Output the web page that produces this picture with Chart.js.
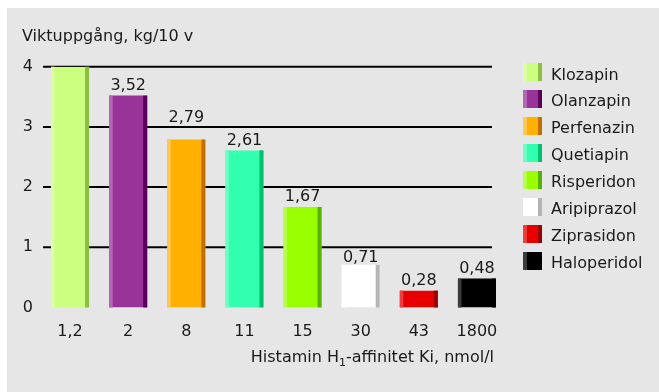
<!DOCTYPE html>
<html>
<head>
<meta charset="utf-8">
<script src="https://cdn.jsdelivr.net/npm/chart.js@4/dist/chart.umd.min.js"></script>
<style>
  html, body { margin:0; padding:0; background:#ffffff; }
  body { width:659px; height:392px; position:relative; overflow:hidden; font-family:"DejaVu Sans", sans-serif; color:#1a1a1a; }
  #bg { position:absolute; left:7px; top:8px; right:0; bottom:0; background:#e6e6e6; }
  #c { position:absolute; left:0; top:0; }
  .txt { position:absolute; font-size:16px; line-height:normal; white-space:nowrap; color:#1a1a1a; }
  .sw { position:absolute; width:19px; height:18px; }
</style>
</head>
<body>
<div id="bg"></div>
<canvas id="c" width="659" height="392"></canvas>
<div class="txt" id="ytitle" style="left:22px; top:26px;"></div>
<div class="txt" id="xtitle" style="right:165px; top:347px; text-align:right;"></div>
<div id="legend"></div>
<script>
// ---- data ----
const categories = ["1,2", "2", "8", "11", "15", "30", "43", "1800"];
const drugs = ["Klozapin", "Olanzapin", "Perfenazin", "Quetiapin", "Risperidon", "Aripiprazol", "Ziprasidon", "Haloperidol"];
const weightGain = [4.00, 3.52, 2.79, 2.61, 1.67, 0.71, 0.28, 0.48];
const yTicks = [0, 1, 2, 3, 4];
const yTitle = "Viktuppgång, kg/10 v";
const xTitleHtml = 'Histamin H<span style="font-size:11px; position:relative; top:4px;">1</span>-affinitet Ki, nmol/l';

// ---- styles ----
const mainColors  = ["#ccff80", "#993399", "#ffb000", "#33ffb0", "#99ff00", "#ffffff", "#e60000", "#000000"];
const lightColors = ["#dcffa0", "#b366b3", "#ffc850", "#6affc6", "#b5ff4a", "#ffffff", "#ef3d3d", "#3c3c3c"];
const darkColors  = ["#8cbf40", "#5a005a", "#c07000", "#00c070", "#55b300", "#b4b4b4", "#990000", "#000000"];

document.getElementById('ytitle').textContent = yTitle;
document.getElementById('xtitle').innerHTML = xTitleHtml;

// legend (HTML)
const leg = document.getElementById('legend');
drugs.forEach((name, i) => {
  const top = 63.3 + i * 26.9;
  const sw = document.createElement('div');
  sw.className = 'sw';
  sw.style.left = '523px';
  sw.style.top = top + 'px';
  sw.style.background = `linear-gradient(to right, ${lightColors[i]} 0px, ${lightColors[i]} 4px, ${mainColors[i]} 4px, ${mainColors[i]} 15px, ${darkColors[i]} 15px, ${darkColors[i]} 19px)`;
  leg.appendChild(sw);
  const t = document.createElement('div');
  t.className = 'txt';
  t.style.left = '551px';
  t.style.top = (top + 1.2) + 'px';
  t.textContent = name;
  leg.appendChild(t);
});

const FONT = { family: "DejaVu Sans", size: 16 };
const fmt = v => v.toFixed(2).replace('.', ',');

const gridPlugin = {
  id: 'gridLines',
  beforeDatasetsDraw(chart) {
    const ctx = chart.ctx, y = chart.scales.y;
    ctx.save();
    ctx.strokeStyle = '#000000';
    ctx.lineWidth = 2;
    yTicks.forEach(v => {
      if (v === 0) return;
      const py = y.getPixelForValue(v);
      ctx.beginPath();
      ctx.moveTo(43, py);
      ctx.lineTo(492, py);
      ctx.stroke();
    });
    ctx.restore();
  }
};

const barDecor = {
  id: 'barDecor',
  afterDatasetsDraw(chart) {
    const ctx = chart.ctx;
    const ys = chart.scales.y;
    const meta = chart.getDatasetMeta(0);
    const yMax = ys.max;
    const linePx = yTicks.filter(v => v > 0).map(v => ys.getPixelForValue(v));
    ctx.save();
    meta.data.forEach((bar, i) => {
      const p = bar.getProps(['x', 'y', 'base', 'width'], true);
      const left = p.x - p.width / 2, right = p.x + p.width / 2;
      const h = p.base - p.y;
      ctx.fillStyle = lightColors[i];
      ctx.fillRect(left, p.y, 3.5, h);
      ctx.fillStyle = darkColors[i];
      ctx.fillRect(right - 4, p.y, 4, h);
      const v = weightGain[i];
      if (v < yMax) {
        // label placement: just above the bar, avoiding the grid lines
        let base = p.y - 5.5;
        const capH = 11.7;
        for (const ly of linePx) {
          const top = base - capH;
          if (top < ly + 2.5 && base > ly - 2.5) {
            const down = ly + 2.7 + capH;
            if (down <= p.y - 2.5) base = down;
            else base = ly - 4.5;
          }
        }
        ctx.fillStyle = '#1a1a1a';
        ctx.font = '16px "DejaVu Sans"';
        ctx.textAlign = 'center';
        ctx.textBaseline = 'alphabetic';
        ctx.fillText(fmt(v), p.x, base);
      }
    });
    ctx.restore();
  }
};

new Chart(document.getElementById('c'), {
  type: 'bar',
  data: {
    labels: categories,
    datasets: [{
      data: weightGain,
      backgroundColor: mainColors,
      borderWidth: 0,
      barPercentage: 0.654,
      categoryPercentage: 1.0
    }]
  },
  options: {
    responsive: false,
    animation: false,
    devicePixelRatio: 1,
    layout: { padding: { top: 66.7, right: 153, bottom: 0, left: 0 } },
    plugins: { legend: { display: false }, tooltip: { enabled: false }, title: { display: false } },
    scales: {
      x: {
        grid: { display: false, drawTicks: false },
        border: { display: false },
        ticks: { font: FONT, color: '#1a1a1a', padding: 14.5, maxRotation: 0, autoSkip: false },
        afterFit: s => { s.height = 392 - 307.5; }
      },
      y: {
        min: 0, max: 4,
        grid: { display: false, drawTicks: false },
        border: { display: false },
        ticks: { stepSize: 1, font: FONT, color: '#1a1a1a', padding: 8 },
        afterFit: s => { s.width = 41; }
      }
    }
  },
  plugins: [gridPlugin, barDecor]
});
</script>
</body>
</html>
